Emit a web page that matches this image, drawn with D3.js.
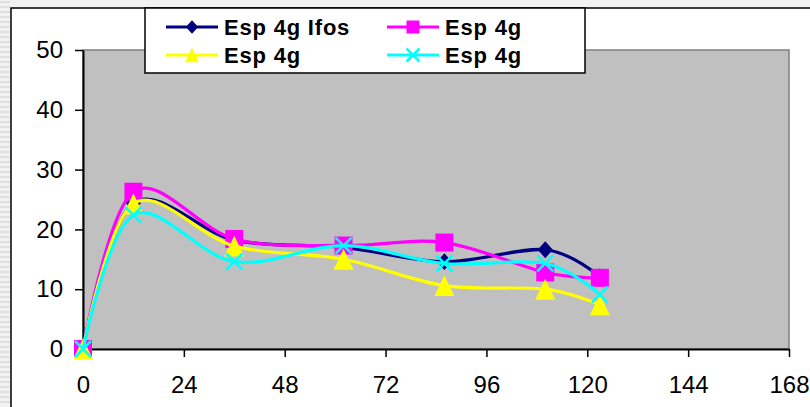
<!DOCTYPE html>
<html>
<head>
<meta charset="utf-8">
<script src="https://cdn.jsdelivr.net/npm/d3@7/dist/d3.min.js"></script>
<style>
  body { margin: 0; background: #fff; }
  svg { display: block; }
  text { font-family: "Liberation Sans", Arial, sans-serif; fill: #000; }
</style>
</head>
<body>
<svg id="chart" width="810" height="407"></svg>
<script>
// Sampling times (hours)
const hours = [0, 12, 36, 62, 86, 110, 123];

// Series values
const espIfos = [0, 24.4, 18.2, 17.0, 14.6, 16.6, 12.1];
const espA    = [0, 26.3, 18.4, 17.3, 17.8, 12.8, 11.9];
const espB    = [0, 24.3, 17.2, 15.0, 10.6, 10.0, 7.4];
const espC    = [0, 22.4, 14.6, 17.3, 14.3, 14.3, 9.1];

const seriesNames = ["Esp 4g Ifos", "Esp 4g", "Esp 4g", "Esp 4g"];
const seriesColors = ["#000080", "#FF00FF", "#FFFF00", "#00FFFF"];
const seriesMarkers = ["diamond", "square", "triangle", "cross"];

const xTicks = [0, 24, 48, 72, 96, 120, 144, 168];
const yTicks = [0, 10, 20, 30, 40, 50];

const series = [espIfos, espA, espB, espC].map((vals, i) => ({
  name: seriesNames[i],
  color: seriesColors[i],
  marker: seriesMarkers[i],
  points: vals.map((v, j) => ({ x: hours[j], y: v }))
}));

const svg = d3.select("#chart");
const W = 810, H = 407;
const plot = { left: 83, right: 789, top: 50, bottom: 349 };

// Sheet background around the chart object
svg.append("rect").attr("x", 0).attr("y", 0).attr("width", W).attr("height", H).attr("fill", "#f2f2f2");
const stripes = svg.append("g");
for (let yy = 2; yy < H; yy += 5) {
  stripes.append("line").attr("x1", 0).attr("x2", 10).attr("y1", yy).attr("y2", yy)
    .attr("stroke", "#d9d9d9").attr("stroke-width", 1.5);
}
// Chart area
svg.append("rect").attr("x", 11).attr("y", 8).attr("width", W).attr("height", H)
  .attr("fill", "#fff").attr("stroke", "#000").attr("stroke-width", 1.5);

const x = d3.scaleLinear().domain([0, 168]).range([plot.left, plot.right]);
const y = d3.scaleLinear().domain([0, 50]).range([plot.bottom, plot.top]);

// Plot area
svg.append("rect")
  .attr("x", plot.left).attr("y", plot.top)
  .attr("width", plot.right - plot.left).attr("height", plot.bottom - plot.top)
  .attr("fill", "#C0C0C0").attr("stroke", "#808080").attr("stroke-width", 1.5);

// Axes
const yAxis = svg.append("g").attr("transform", `translate(${plot.left},0)`)
  .call(d3.axisLeft(y).tickValues(yTicks).tickSize(8).tickSizeOuter(0).tickPadding(12));
const xAxis = svg.append("g").attr("transform", `translate(0,${plot.bottom})`)
  .call(d3.axisBottom(x).tickValues(xTicks).tickSize(8).tickSizeOuter(0).tickPadding(19));
[yAxis, xAxis].forEach(g => {
  g.select(".domain").attr("stroke", "#000").attr("stroke-width", 2);
  g.selectAll(".tick line").attr("stroke", "#000").attr("stroke-width", 1.5);
  g.selectAll(".tick text").attr("font-family", "Liberation Sans, Arial, sans-serif").attr("fill", "#000");
});
yAxis.selectAll(".tick text").attr("font-size", 24);
xAxis.selectAll(".tick text").attr("font-size", 24);

// Marker shapes
function markerPath(kind, s) {
  const p = d3.path();
  if (kind === "diamond") {
    p.moveTo(0, -s * 1.05); p.lineTo(s * 0.95, 0); p.lineTo(0, s * 1.05); p.lineTo(-s * 0.95, 0); p.closePath();
  } else if (kind === "square") {
    p.rect(-s, -s, 2 * s, 2 * s);
  } else if (kind === "triangle") {
    p.moveTo(0, -s * 1.1); p.lineTo(s * 1.05, s * 1.1); p.lineTo(-s * 1.05, s * 1.1); p.closePath();
  } else {
    p.moveTo(-s, -s); p.lineTo(s, s); p.moveTo(s, -s); p.lineTo(-s, s);
  }
  return p.toString();
}
function drawMarker(g, kind, color, s) {
  const path = g.append("path").attr("d", markerPath(kind, s));
  if (kind === "cross") {
    path.attr("fill", "none").attr("stroke", color).attr("stroke-width", 2.5);
  } else {
    path.attr("fill", color).attr("stroke", "none");
  }
}

const line = d3.line().x(d => x(d.x)).y(d => y(d.y)).curve(d3.curveCardinal.tension(0));
const markerSize = { diamond: 8, square: 9, triangle: 9.5, cross: 8 };

series.forEach(s => {
  svg.append("path").datum(s.points)
    .attr("d", line).attr("fill", "none")
    .attr("stroke", s.color).attr("stroke-width", 3.2).attr("stroke-linejoin", "round");
  s.points.forEach(pt => {
    const g = svg.append("g").attr("transform", `translate(${x(pt.x)},${y(pt.y)})`);
    drawMarker(g, s.marker, s.color, markerSize[s.marker]);
  });
});

// Legend
const legend = svg.append("g");
legend.append("rect").attr("x", 145).attr("y", 8).attr("width", 440).attr("height", 65)
  .attr("fill", "#fff").attr("stroke", "#000").attr("stroke-width", 1.5);
const legendPos = [
  { lx: 166, ty: 27 }, { lx: 387, ty: 27 },
  { lx: 166, ty: 55 }, { lx: 387, ty: 55 }
];
series.forEach((s, i) => {
  const p = legendPos[i];
  const g = legend.append("g");
  g.append("line").attr("x1", p.lx).attr("x2", p.lx + 52).attr("y1", p.ty).attr("y2", p.ty)
    .attr("stroke", s.color).attr("stroke-width", 3.2);
  const m = g.append("g").attr("transform", `translate(${p.lx + 26},${p.ty})`);
  drawMarker(m, s.marker, s.color, 6.5);
  g.append("text").attr("x", p.lx + 58).attr("y", p.ty).attr("dy", "0.36em")
    .attr("font-size", 22).attr("font-weight", "bold").attr("letter-spacing", 0.8)
    .text(s.name);
});
</script>
</body>
</html>
